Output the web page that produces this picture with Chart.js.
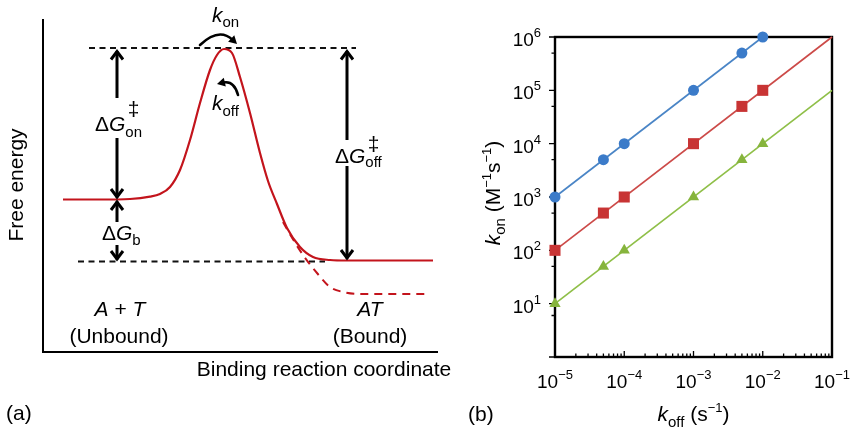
<!DOCTYPE html>
<html>
<head>
<meta charset="utf-8">
<script src="https://cdn.jsdelivr.net/npm/chart.js@4/dist/chart.umd.min.js"></script>
<style>
  html, body { margin: 0; padding: 0; background: #fff; }
  #wrap { position: relative; width: 852px; height: 428px; overflow: hidden; background: #fff; }
  canvas { position: absolute; top: 0; }
  #energy { left: 0; }
  #rates { left: 460px; }
</style>
</head>
<body>
<div id="wrap">
  <canvas id="energy" width="460" height="428"></canvas>
  <canvas id="rates" width="392" height="428"></canvas>
</div>
<script>
// ---------- (a) free-energy profile along the binding coordinate ----------
// reaction coordinate (arbitrary units) and free energy (arbitrary units)
const coordPath  = [20, 57, 87, 107, 117, 127, 137, 147, 157, 167, 174, 181, 189, 197, 207, 217, 225, 234, 244, 257, 270, 287, 304, 390];
const energyPath = [152.5, 152.5, 153, 155.3, 158, 165, 182, 212, 249, 282, 297, 303, 299, 275, 239, 199, 171, 148, 124, 105, 95, 92, 91.5, 91.5];
// deeper bound state (dashed branch)
const coordDeep  = [240, 248, 260, 274, 287, 300, 317, 387];
const energyDeep = [130, 116, 97, 79, 65, 60, 58, 58];
// reference levels
const barrierLevel = 304;
const unboundLevel = 152.5;
const boundLevel   = 90.5;
const barrierSpan  = [46, 313];
const boundSpan    = [35, 282];

// ---------- (b) association vs dissociation rate constants ----------
const koff     = [1e-5, 5e-5, 1e-4, 1e-3, 5e-3, 1e-2];
const konBlue  = [1e3, 5e3, 1e4, 1e5, 5e5, 1e6];
const konRed   = [1e2, 5e2, 1e3, 1e4, 5e4, 1e5];
const konGreen = [1e1, 5e1, 1e2, 1e3, 5e3, 1e4];
const lineKoffBlue  = [1e-5, 1e-2];
const lineKonBlue   = [1e3, 1e6];
const lineKoffRed   = [1e-5, 1e-1];
const lineKonRed    = [1e2, 1e6];
const lineKoffGreen = [1e-5, 1e-1];
const lineKonGreen  = [1e1, 1e5];
const xTickValues = [1e-5, 1e-4, 1e-3, 1e-2, 1e-1];
const xTickExps   = ['\u22125', '\u22124', '\u22123', '\u22122', '\u22121'];
const yTickValues = [1e1, 1e2, 1e3, 1e4, 1e5, 1e6];
const yTickExps   = ['1', '2', '3', '4', '5', '6'];

// ---------- text helpers ----------
const FAM = '"Liberation Sans", Arial, Helvetica, sans-serif';
function fnt(size, italic) { return (italic ? 'italic ' : '') + size + 'px ' + FAM; }
function partWidth(ctx, p) {
  ctx.font = fnt(p.size || 21, p.italic);
  let w = ctx.measureText(p.t).width;
  if (p.over) { ctx.font = fnt(p.over.size, p.over.italic); w = Math.max(w, ctx.measureText(p.over.t).width); }
  return w + (p.kern || 0);
}
function drawRich(ctx, parts, x, y, align) {
  let w = 0;
  for (const p of parts) w += partWidth(ctx, p);
  let cx = align === 'center' ? x - w / 2 : align === 'right' ? x - w : x;
  ctx.textAlign = 'left';
  ctx.textBaseline = 'alphabetic';
  for (const p of parts) {
    const pw = partWidth(ctx, p);
    ctx.font = fnt(p.size || 21, p.italic);
    const tw = ctx.measureText(p.t).width;
    ctx.fillText(p.t, cx + (pw - (p.kern || 0) - tw) / 2, y + (p.dy || 0));
    if (p.over) {
      ctx.font = fnt(p.over.size, p.over.italic);
      const ow = ctx.measureText(p.over.t).width;
      ctx.fillText(p.over.t, cx + (pw - (p.kern || 0) - ow) / 2, y + p.over.dy);
    }
    cx += pw;
  }
  return w;
}
function drawRotated(ctx, parts, x, y) {
  ctx.save();
  ctx.translate(x, y);
  ctx.rotate(-Math.PI / 2);
  drawRich(ctx, parts, 0, 0, 'center');
  ctx.restore();
}

// double-headed vertical arrow with a break for its label
function vArrow(ctx, px, yTop, yBot, gap) {
  ctx.save();
  ctx.strokeStyle = '#000';
  ctx.lineWidth = 3;
  ctx.lineCap = 'butt';
  ctx.lineJoin = 'miter';
  ctx.beginPath();
  if (gap) {
    ctx.moveTo(px, yTop + 2); ctx.lineTo(px, gap[0]);
    ctx.moveTo(px, gap[1]);   ctx.lineTo(px, yBot - 2);
  } else {
    ctx.moveTo(px, yTop + 2); ctx.lineTo(px, yBot - 2);
  }
  ctx.stroke();
  ctx.beginPath();
  ctx.moveTo(px - 6, yTop + 10.5); ctx.lineTo(px, yTop + 2.5); ctx.lineTo(px + 6, yTop + 10.5);
  ctx.moveTo(px - 6, yBot - 10.5); ctx.lineTo(px, yBot - 2.5); ctx.lineTo(px + 6, yBot - 10.5);
  ctx.stroke();
  ctx.restore();
}
// curved arrow (quadratic) with a filled head at the end point
function curvedArrow(ctx, p0, c, p1) {
  ctx.save();
  ctx.strokeStyle = '#000';
  ctx.fillStyle = '#000';
  ctx.lineWidth = 2.6;
  ctx.lineCap = 'round';
  const dx = p1[0] - c[0], dy = p1[1] - c[1];
  const L = Math.hypot(dx, dy), ux = dx / L, uy = dy / L;
  const headLen = 8, headW = 4.5;
  const bx = p1[0] - ux * headLen, by = p1[1] - uy * headLen;
  ctx.beginPath();
  ctx.moveTo(p0[0], p0[1]);
  ctx.quadraticCurveTo(c[0], c[1], bx + ux * 2, by + uy * 2);
  ctx.stroke();
  ctx.beginPath();
  ctx.moveTo(p1[0], p1[1]);
  ctx.lineTo(bx - uy * headW, by + ux * headW);
  ctx.lineTo(bx + uy * headW, by - ux * headW);
  ctx.closePath();
  ctx.fill();
  ctx.restore();
}

// ---------- (a) decorations ----------
const energyDecor = {
  id: 'energyDecor',
  afterDatasetsDraw(chart) {
    const { ctx, chartArea: a, scales: { x, y } } = chart;
    const X = u => x.getPixelForValue(u);
    const Y = g => y.getPixelForValue(g);
    ctx.save();
    // axes
    ctx.strokeStyle = '#000';
    ctx.lineWidth = 2;
    ctx.beginPath();
    ctx.moveTo(a.left, a.top);
    ctx.lineTo(a.left, a.bottom);
    ctx.lineTo(a.right, a.bottom);
    ctx.stroke();

    // barrier heights
    vArrow(ctx, X(74), Y(barrierLevel - 1), Y(unboundLevel), [Y(254), Y(214)]);
    vArrow(ctx, X(74), Y(unboundLevel), Y(boundLevel), [Y(130), Y(107)]);
    vArrow(ctx, X(304), Y(barrierLevel - 1), Y(boundLevel + 1), [Y(212), Y(186)]);

    ctx.fillStyle = '#000';
    drawRich(ctx, [
      { t: '\u0394', size: 21 }, { t: 'G', size: 21, italic: true },
      { t: 'on', size: 15, dy: 6, over: { t: '\u2021', size: 21, dy: -15 } }
    ], X(52), Y(221), 'left');
    drawRich(ctx, [
      { t: '\u0394', size: 21 }, { t: 'G', size: 21, italic: true },
      { t: 'b', size: 15, dy: 5 }
    ], X(59), Y(112), 'left');
    drawRich(ctx, [
      { t: '\u0394', size: 21 }, { t: 'G', size: 21, italic: true },
      { t: 'off', size: 15, dy: 4, over: { t: '\u2021', size: 21, dy: -12 } }
    ], X(292), Y(189), 'left');

    // rate arrows at the transition state
    curvedArrow(ctx, [X(157), Y(307)], [X(176), Y(325)], [X(194), Y(308)]);
    drawRich(ctx, [{ t: 'k', size: 21, italic: true }, { t: 'on', size: 15, dy: 5 }], X(169), Y(330), 'left');
    curvedArrow(ctx, [X(195), Y(257)], [X(191), Y(272)], [X(174), Y(268)]);
    drawRich(ctx, [{ t: 'k', size: 21, italic: true }, { t: 'off', size: 15, dy: 6 }], X(169), Y(242), 'left');

    // states
    drawRich(ctx, [{ t: 'A', italic: true }, { t: ' + ' }, { t: 'T', italic: true }], X(77), Y(36), 'center');
    drawRich(ctx, [{ t: '(Unbound)' }], X(76), Y(9), 'center');
    drawRich(ctx, [{ t: 'AT', italic: true }], X(327), Y(36), 'center');
    drawRich(ctx, [{ t: '(Bound)' }], X(327), Y(9), 'center');

    // axis titles and panel tag
    drawRich(ctx, [{ t: 'Binding reaction coordinate' }], 324, 376, 'center');
    drawRotated(ctx, [{ t: 'Free energy' }], 23, 185);
    drawRich(ctx, [{ t: '(a)' }], 6, 420, 'left');
    ctx.restore();
  }
};

new Chart(document.getElementById('energy'), {
  type: 'scatter',
  data: {
    datasets: [
      {
        data: coordPath.map((c, i) => ({ x: c, y: energyPath[i] })),
        showLine: true, borderColor: '#c3141c', borderWidth: 2.2, pointRadius: 0,
        cubicInterpolationMode: 'monotone', clip: false
      },
      {
        data: coordDeep.map((c, i) => ({ x: c, y: energyDeep[i] })),
        showLine: true, borderColor: '#c3141c', borderWidth: 2, pointRadius: 0,
        borderDash: [8, 6], cubicInterpolationMode: 'monotone', clip: false
      },
      {
        data: barrierSpan.map(c => ({ x: c, y: barrierLevel })),
        showLine: true, borderColor: '#111', borderWidth: 1.8, pointRadius: 0,
        borderDash: [6, 4.5], clip: false
      },
      {
        data: boundSpan.map(c => ({ x: c, y: boundLevel })),
        showLine: true, borderColor: '#111', borderWidth: 1.8, pointRadius: 0,
        borderDash: [6, 4.5], clip: false
      }
    ]
  },
  options: {
    responsive: false,
    animation: false,
    events: [],
    layout: { padding: { left: 43, right: 22, top: 19, bottom: 76 } },
    scales: {
      x: { type: 'linear', min: 0, max: 395, display: false },
      y: { type: 'linear', min: 0, max: 333, display: false }
    },
    plugins: { legend: { display: false }, tooltip: { enabled: false } }
  },
  plugins: [energyDecor]
});

// ---------- (b) frame, ticks and labels ----------
const isDecade = v => Math.abs(Math.log10(v) - Math.round(Math.log10(v))) < 1e-6;
function logTickValues(scale, lo, hi) {
  if (scale.ticks && scale.ticks.length > 5) return scale.ticks.map(t => t.value);
  const out = [];
  for (let e = lo; e <= hi; e++) for (let m = 1; m <= 9; m++) { const v = m * Math.pow(10, e); if (e === hi && m > 1) break; out.push(v); }
  return out;
}
const rateFrame = {
  id: 'rateFrame',
  beforeDatasetsDraw(chart) {
    const { ctx, chartArea: a, scales: { x, y } } = chart;
    ctx.save();
    ctx.strokeStyle = '#000';
    ctx.lineWidth = 1.3;
    ctx.beginPath();
    for (const v of logTickValues(x, -5, -1)) {
      const px = x.getPixelForValue(v);
      const len = isDecade(v) ? 6 : 3.5;
      ctx.moveTo(px, a.bottom); ctx.lineTo(px, a.bottom - len);
    }
    for (const v of logTickValues(y, 0, 6)) {
      const py = y.getPixelForValue(v);
      const len = isDecade(v) ? 6 : 3.5;
      ctx.moveTo(a.left, py); ctx.lineTo(a.left - len, py);
    }
    ctx.stroke();
    ctx.lineWidth = 2.4;
    ctx.strokeRect(a.left, a.top, a.right - a.left, a.bottom - a.top);

    ctx.fillStyle = '#000';
    xTickValues.forEach((v, i) => {
      drawRich(ctx, [{ t: '10', size: 19 }, { t: xTickExps[i], size: 13, dy: -9 }],
        x.getPixelForValue(v), a.bottom + 31, 'center');
    });
    yTickValues.forEach((v, i) => {
      drawRich(ctx, [{ t: '10', size: 19 }, { t: yTickExps[i], size: 13, dy: -9 }],
        a.left - 14, y.getPixelForValue(v) + 9, 'right');
    });
    drawRich(ctx, [
      { t: 'k', size: 21, italic: true }, { t: 'off', size: 15, dy: 6 },
      { t: ' (s', size: 21 }, { t: '\u22121', size: 13, dy: -9 }, { t: ')', size: 21 }
    ], (a.left + a.right) / 2, 421, 'center');
    drawRotated(ctx, [
      { t: 'k', size: 21, italic: true }, { t: 'on', size: 15, dy: 5 },
      { t: ' (M', size: 21 }, { t: '\u22121', size: 13, dy: -9 },
      { t: 's', size: 21 }, { t: '\u22121', size: 13, dy: -9 }, { t: ')', size: 21 }
    ], 40, 193);
    drawRich(ctx, [{ t: '(b)' }], 8, 421, 'left');
    ctx.restore();
  }
};

const pts = (xs, ys) => xs.map((v, i) => ({ x: v, y: ys[i] }));
new Chart(document.getElementById('rates'), {
  type: 'scatter',
  data: {
    datasets: [
      { data: pts(koff, konBlue), pointStyle: 'circle', pointRadius: 5.5, backgroundColor: '#3b7bc9', borderWidth: 0, showLine: false, clip: false, order: 0 },
      { data: pts(koff, konRed), pointStyle: 'rect', pointRadius: 7.8, backgroundColor: '#c83434', borderWidth: 0, showLine: false, clip: false, order: 0 },
      { data: pts(koff, konGreen), pointStyle: 'triangle', pointRadius: 6.5, backgroundColor: '#86b43c', borderWidth: 0, showLine: false, clip: false, order: 0 },
      { data: pts(lineKoffBlue, lineKonBlue), showLine: true, pointRadius: 0, borderColor: '#4a85c6', borderWidth: 1.7, clip: false, order: 1 },
      { data: pts(lineKoffRed, lineKonRed), showLine: true, pointRadius: 0, borderColor: '#cc4a48', borderWidth: 1.7, clip: false, order: 1 },
      { data: pts(lineKoffGreen, lineKonGreen), showLine: true, pointRadius: 0, borderColor: '#8fbf48', borderWidth: 1.7, clip: false, order: 1 }
    ]
  },
  options: {
    responsive: false,
    animation: false,
    events: [],
    layout: { padding: { left: 95, right: 20, top: 37, bottom: 71 } },
    scales: {
      x: { type: 'logarithmic', min: 1e-5, max: 1e-1, display: false },
      y: { type: 'logarithmic', min: 1, max: 1e6, display: false }
    },
    plugins: { legend: { display: false }, tooltip: { enabled: false } }
  },
  plugins: [rateFrame]
});
</script>
</body>
</html>
